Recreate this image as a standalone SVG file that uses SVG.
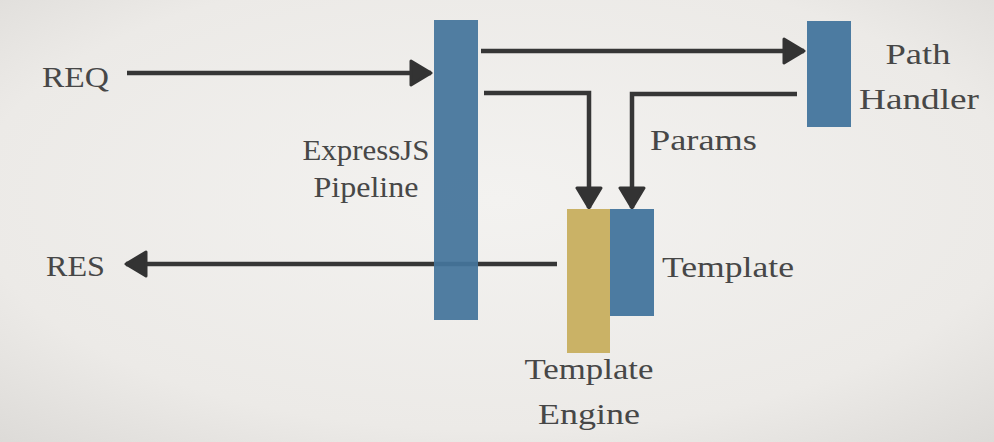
<svg xmlns="http://www.w3.org/2000/svg" width="994" height="442" viewBox="0 0 994 442">
<defs>
<radialGradient id="bg" cx="50%" cy="45%" r="75%">
<stop offset="0" stop-color="#f3f2f0"/>
<stop offset="0.7" stop-color="#eceae7"/>
<stop offset="1" stop-color="#dcdad7"/>
</radialGradient>
<marker id="ah" viewBox="0 0 24 28" refX="22" refY="14" markerWidth="24" markerHeight="28" markerUnits="userSpaceOnUse" orient="auto">
<path d="M2,2 L22,14 L2,26 Z" fill="#333" stroke="#333" stroke-width="3" stroke-linejoin="round"/>
</marker>
<style>
.t{font-family:"Liberation Serif","Times New Roman",serif;font-size:29px;fill:#474747}
.c{fill:none;stroke:#363636;stroke-width:4.5;stroke-linejoin:miter;marker-end:url(#ah)}
.blue{fill:#4c7ba1}
.see{fill:#44749b;fill-opacity:0.93}
.gold{fill:#cab266}
</style>
</defs>
<rect width="994" height="442" fill="url(#bg)"/>
<g id="connectors">
<path class="c" d="M127,73 L431,73"/>
<path class="c" d="M481,51 L804,51"/>
<path class="c" d="M484,93 L589,93 L589,208"/>
<path class="c" d="M797,94 L632,94 L632,208"/>
<path class="c" d="M557,264 L126,264"/>
</g>
<g id="pipeline">
<rect class="see" x="434" y="20" width="44" height="300"/>
<text class="t" x="366" y="160" text-anchor="middle" textLength="127" lengthAdjust="spacingAndGlyphs">ExpressJS</text>
<text class="t" x="366" y="197" text-anchor="middle" textLength="105" lengthAdjust="spacingAndGlyphs">Pipeline</text>
</g>
<g id="path-handler">
<rect class="blue" x="807" y="21" width="44" height="106"/>
<text class="t" x="918" y="64" text-anchor="middle" textLength="65" lengthAdjust="spacingAndGlyphs">Path</text>
<text class="t" x="919" y="109" text-anchor="middle" textLength="120" lengthAdjust="spacingAndGlyphs">Handler</text>
</g>
<g id="template-engine">
<rect class="gold" x="567" y="209" width="43" height="144"/>
<text class="t" x="589" y="379" text-anchor="middle" textLength="129" lengthAdjust="spacingAndGlyphs">Template</text>
<text class="t" x="589" y="424" text-anchor="middle" textLength="102" lengthAdjust="spacingAndGlyphs">Engine</text>
</g>
<g id="template">
<rect class="blue" x="610" y="209" width="44" height="107"/>
<text class="t" x="662" y="277" textLength="132" lengthAdjust="spacingAndGlyphs">Template</text>
</g>
<g id="req">
<text class="t" x="42" y="87" textLength="67" lengthAdjust="spacingAndGlyphs">REQ</text>
</g>
<g id="res">
<text class="t" x="46" y="276" textLength="59" lengthAdjust="spacingAndGlyphs">RES</text>
</g>
<g id="params">
<text class="t" x="650" y="150" textLength="107" lengthAdjust="spacingAndGlyphs">Params</text>
</g>
</svg>
